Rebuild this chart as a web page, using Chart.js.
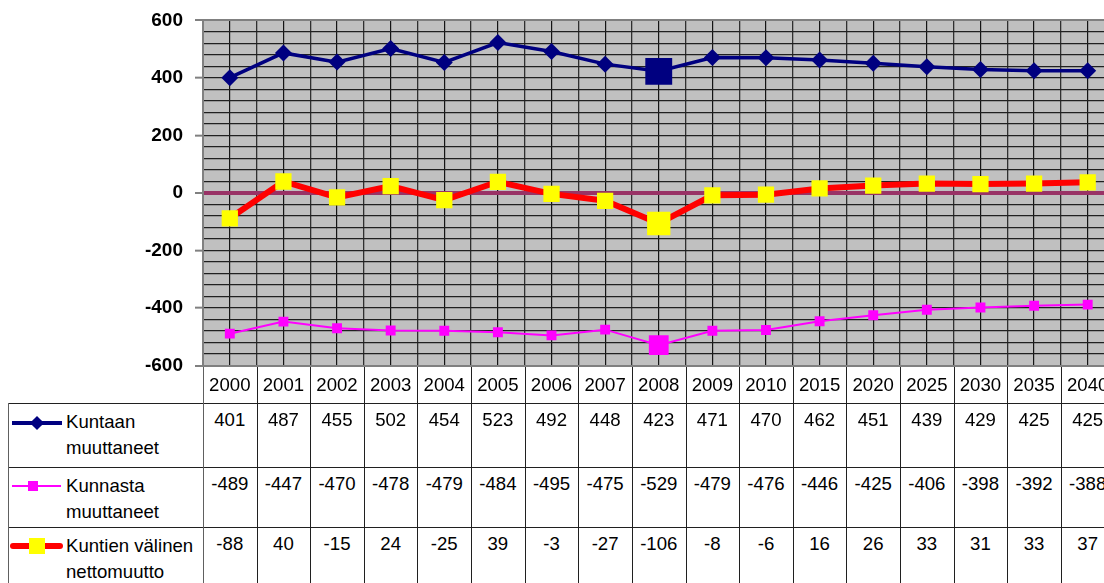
<!DOCTYPE html>
<html>
<head>
<meta charset="utf-8">
<script src="https://cdn.jsdelivr.net/npm/chart.js@4.4.0/dist/chart.umd.min.js"></script>
<style>
  html, body { margin: 0; padding: 0; background: #fff; overflow: hidden; }
  #wrap { position: relative; width: 1104px; height: 583px; overflow: hidden; font-family: Arial, 'Liberation Sans', sans-serif; }
  #chart { position: absolute; left: 0; top: -3px; }
  .cell { position: absolute; font-size: 18.6px; color: #000; text-align: center; white-space: nowrap; }
  .hl { position: absolute; height: 1px; background: #202020; }
  .vl { position: absolute; width: 1px; background: #202020; }
</style>
</head>
<body>
<div id="wrap">
  <canvas id="chart" width="1126" height="392"></canvas>
  <div id="table"></div>
</div>
<script>
// data
const years = ['2000', '2001', '2002', '2003', '2004', '2005', '2006', '2007', '2008',
  '2009', '2010', '2015', '2020', '2025', '2030', '2035', '2040'];
const kuntaan = [401, 487, 455, 502, 454, 523, 492, 448, 423, 471, 470, 462, 451, 439, 429, 425, 425];
const kunnasta = [-489, -447, -470, -478, -479, -484, -495, -475, -529, -479, -476, -446, -425, -406, -398, -392, -388];
const netto = [-88, 40, -15, 24, -25, 39, -3, -27, -106, -8, -6, 16, 26, 33, 31, 33, 37];
const seriesNames = ['Kuntaan muuttaneet', 'Kunnasta muuttaneet', 'Kuntien välinen nettomuutto'];
const yMin = -600;
const yMax = 600;
const highlightYear = '2008';

const font = "Arial, 'Liberation Sans', sans-serif";
const canvasTop = -3;
const hi = (i) => years[i] === highlightYear;

// silver plot background
const plotBg = {
  id: 'plotBg',
  beforeDraw(chart) {
    const a = chart.chartArea;
    const c = chart.ctx;
    c.save();
    c.fillStyle = '#c0c0c0';
    c.fillRect(a.left, a.top, a.right - a.left, a.bottom - a.top);
    c.restore();
  }
};

const edge = (v) => v === yMax || v === yMin;

const chart = new Chart(document.getElementById('chart'), {
  type: 'line',
  plugins: [plotBg],
  data: {
    labels: years,
    datasets: [
      {
        label: seriesNames[2], data: netto,
        borderColor: '#ff0000', borderWidth: 6,
        backgroundColor: '#ffff00',
        pointStyle: 'rect',
        pointRadius: years.map((y, i) => hi(i) ? 16.5 : 11.5),
        pointBorderWidth: 0,
        order: 1
      },
      {
        label: seriesNames[0], data: kuntaan,
        borderColor: '#000080', borderWidth: 3.5,
        backgroundColor: '#000080',
        pointStyle: years.map((y, i) => hi(i) ? 'rect' : 'rectRot'),
        pointRadius: years.map((y, i) => hi(i) ? 19 : 8.5),
        pointBorderWidth: 0,
        order: 2
      },
      {
        label: seriesNames[1], data: kunnasta,
        borderColor: '#ff00ff', borderWidth: 2,
        backgroundColor: '#ff00ff',
        pointStyle: 'rect',
        pointRadius: years.map((y, i) => hi(i) ? 14 : 7),
        pointBorderWidth: 0,
        order: 3
      }
    ]
  },
  options: {
    responsive: false,
    animation: false,
    events: [],
    layout: { padding: { top: 16, bottom: 7, left: 0, right: 0 } },
    plugins: { legend: { display: false }, tooltip: { enabled: false } },
    scales: {
      x: {
        offset: true, z: -1,
        grid: { offset: true, color: '#303030', lineWidth: 1.3, drawTicks: false },
        border: { display: false },
        ticks: { display: false },
        afterFit: (s) => { s.height = 0; }
      },
      x2: {
        type: 'category', labels: years, offset: true, z: -1,
        grid: { offset: false, color: '#151515', lineWidth: 1.2, drawTicks: false },
        border: { display: false },
        ticks: { display: false },
        afterFit: (s) => { s.height = 0; }
      },
      y: {
        min: yMin, max: yMax,
        ticks: {
          stepSize: 40, maxTicksLimit: 100, autoSkip: false,
          callback: (v) => v % 200 === 0 ? String(v) : '',
          font: { family: font, size: 19, weight: 'bold' },
          color: '#000', padding: 12
        },
        grid: {
          color: (c) => c.tick.value === 0 ? '#993366' : (edge(c.tick.value) ? '#808080' : '#202020'),
          lineWidth: (c) => c.tick.value === 0 ? 4 : (edge(c.tick.value) ? 2 : 1.3),
          tickLength: 8,
          tickColor: (c) => c.tick.value % 200 === 0 ? '#808080' : 'rgba(0,0,0,0)',
          tickWidth: 2
        },
        border: { color: '#808080', width: 2 },
        afterFit: (s) => { s.width = 203; }
      }
    }
  }
});

// data table under the plot
const table = document.getElementById('table');
const xs = chart.scales.x;
const area = chart.chartArea;
const colW = xs.getPixelForValue(1) - xs.getPixelForValue(0);
const rowTops = [Math.round(area.bottom + canvasTop) + 1, 403, 467, 527, 600];
const legendLeft = 8;
const rows = [kuntaan, kunnasta, netto];

function add(cls, style, text) {
  const d = document.createElement('div');
  d.className = cls;
  Object.assign(d.style, style);
  if (text !== undefined) d.textContent = text;
  table.appendChild(d);
  return d;
}

// header years
years.forEach((y, i) => {
  const cx = xs.getPixelForValue(i);
  add('cell', { left: (cx - colW / 2) + 'px', width: colW + 'px', top: rowTops[0] + 'px',
    height: (rowTops[1] - rowTops[0]) + 'px', lineHeight: (rowTops[1] - rowTops[0]) + 'px' }, y);
});

// value rows
rows.forEach((vals, r) => {
  vals.forEach((v, i) => {
    const cx = xs.getPixelForValue(i);
    add('cell', { left: (cx - colW / 2) + 'px', width: colW + 'px', top: (rowTops[r + 1] + 4) + 'px',
      lineHeight: '26px' }, String(v));
  });
  // series name
  const words = seriesNames[r].split(' ');
  const first = words.slice(0, words.length - 1).join(' ');
  const last = words[words.length - 1];
  const lab = add('cell', { left: '66px', top: (rowTops[r + 1] + 6) + 'px', lineHeight: '26px', textAlign: 'left' });
  lab.innerHTML = first + '<br>' + last;
});

// legend keys
const keyY = [423, 486, 546];
add('', { position: 'absolute', left: '12px', width: '50px', top: (keyY[0] - 2) + 'px', height: '4px', background: '#000080' });
add('', { position: 'absolute', left: '32px', width: '10px', height: '10px', top: (keyY[0] - 5) + 'px', background: '#000080', transform: 'rotate(45deg)' });
add('', { position: 'absolute', left: '12px', width: '49px', top: (keyY[1] - 1) + 'px', height: '2px', background: '#ff00ff' });
add('', { position: 'absolute', left: '28px', width: '10px', height: '10px', top: (keyY[1] - 5) + 'px', background: '#ff00ff' });
add('', { position: 'absolute', left: '10px', width: '53px', top: (keyY[2] - 3) + 'px', height: '6px', background: '#ff0000', borderRadius: '3px' });
add('', { position: 'absolute', left: '29px', width: '16px', height: '16px', top: (keyY[2] - 8) + 'px', background: '#ffff00' });

// grid lines of the table
for (let r = 1; r < rowTops.length - 1; r++) {
  add('hl', { left: legendLeft + 'px', width: (area.right - legendLeft) + 'px', top: rowTops[r] + 'px' });
}
add('vl', { left: legendLeft + 'px', top: rowTops[1] + 'px', height: (583 - rowTops[1]) + 'px', background: '#606060' });
for (let i = 0; i <= years.length; i++) {
  const x = Math.round(xs.getPixelForValue(i) - colW / 2);
  add('vl', { left: x + 'px', top: rowTops[0] + 'px', height: (583 - rowTops[0]) + 'px', background: i === 0 ? '#606060' : '#202020' });
}
</script>
</body>
</html>
